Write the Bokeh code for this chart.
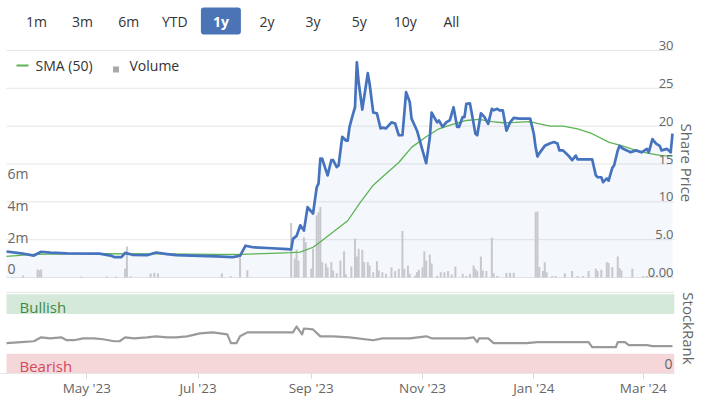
import pandas as pd
from bokeh.plotting import figure
from bokeh.layouts import column
from bokeh.models import (Range1d, DatetimeTickFormatter, MonthsTicker, BoxAnnotation, LinearAxis,
                          FixedTicker)
from bokeh.core.properties import value
from bokeh.embed import file_html
from bokeh.resources import INLINE

FONT = "Open Sans"

# ---------------- data ----------------
range_buttons = ["1m", "3m", "6m", "YTD", "1y", "2y", "3y", "5y", "10y", "All"]
selected_button = "1y"

price_dates = ["2023-03-18", "2023-03-26", "2023-04-02", "2023-04-06", "2023-04-11", "2023-04-20", "2023-05-08",
               "2023-05-14", "2023-05-16", "2023-05-20", "2023-05-22", "2023-05-26", "2023-06-03", "2023-06-08",
               "2023-06-14", "2023-06-19", "2023-07-02", "2023-07-11", "2023-07-20", "2023-07-24", "2023-07-27",
               "2023-07-31", "2023-08-08", "2023-08-19", "2023-08-21", "2023-08-22", "2023-08-24", "2023-08-26",
               "2023-08-28", "2023-08-30", "2023-09-02", "2023-09-04", "2023-09-05", "2023-09-06", "2023-09-07",
               "2023-09-10", "2023-09-12", "2023-09-13", "2023-09-15", "2023-09-16", "2023-09-18", "2023-09-20",
               "2023-09-21", "2023-09-22", "2023-09-24", "2023-09-25", "2023-09-26", "2023-09-27", "2023-09-29",
               "2023-10-02", "2023-10-03", "2023-10-05", "2023-10-07", "2023-10-09", "2023-10-10", "2023-10-12",
               "2023-10-15", "2023-10-17", "2023-10-19", "2023-10-21", "2023-10-23", "2023-10-25", "2023-10-26",
               "2023-10-29", "2023-11-01", "2023-11-03", "2023-11-05", "2023-11-06", "2023-11-09", "2023-11-10",
               "2023-11-12", "2023-11-14", "2023-11-16", "2023-11-18", "2023-11-20", "2023-11-21", "2023-11-23",
               "2023-11-24", "2023-11-25", "2023-11-27", "2023-11-28", "2023-11-30", "2023-12-01", "2023-12-03",
               "2023-12-05", "2023-12-07", "2023-12-09", "2023-12-10", "2023-12-12", "2023-12-13", "2023-12-15",
               "2023-12-17", "2023-12-19", "2023-12-21", "2023-12-24", "2023-12-30", "2024-01-01", "2024-01-02",
               "2024-01-03", "2024-01-04", "2024-01-07", "2024-01-10", "2024-01-12", "2024-01-14", "2024-01-15",
               "2024-01-17", "2024-01-20", "2024-01-22", "2024-01-24", "2024-01-25", "2024-02-02", "2024-02-04",
               "2024-02-05", "2024-02-07", "2024-02-08", "2024-02-10", "2024-02-11", "2024-02-13", "2024-02-14",
               "2024-02-16", "2024-02-17", "2024-02-19", "2024-02-21", "2024-02-23", "2024-02-26", "2024-02-29",
               "2024-03-03", "2024-03-04", "2024-03-06", "2024-03-08", "2024-03-10", "2024-03-11", "2024-03-14",
               "2024-03-16", "2024-03-17"]
price_values = [3.44, 3.2, 2.9, 3.4, 3.3, 3.2, 3.15,
                2.9, 2.7, 2.7, 3.25, 3.0, 2.95, 3.3,
                3.1, 2.95, 2.87, 2.8, 2.7, 2.87, 4.2,
                4.0, 3.9, 3.75, 3.7, 5.1, 5.5, 6.9,
                6.2, 9.3, 8.45, 11.9, 12.4, 15.7, 15.7,
                13.5, 15.5, 15.5, 14.6, 14.8, 18.6, 18.1,
                18.1, 19.9, 21.7, 22.5, 28.45, 25.8, 22.2,
                27.0, 25.6, 21.8, 21.7, 19.7, 19.8, 19.7,
                20.5, 20.35, 18.8, 18.8, 24.5, 23.2, 21.0,
                19.4, 16.8, 15.1, 18.5, 21.8, 20.5, 20.75,
                19.9, 20.5, 20.8, 22.5, 19.9, 19.9, 21.2,
                21.2, 22.95, 23.0, 21.7, 19.0, 18.8, 21.7,
                21.2, 20.3, 22.3, 22.1, 22.3, 22.1, 22.1,
                19.4, 20.5, 21.1, 21.0, 21.0, 19.0, 17.2,
                16.0, 16.4, 17.4, 17.75, 17.9, 17.7, 16.8,
                16.8, 16.1, 15.5, 16.1, 15.6, 15.6, 13.5,
                13.25, 13.25, 12.6, 13.1, 12.8, 14.5, 14.8,
                16.8, 17.4, 17.0, 16.8, 16.55, 16.8, 16.55,
                17.0, 16.55, 18.3, 17.7, 17.4, 16.8, 17.0,
                16.55, 19.0]

sma_dates = ["2023-03-18", "2023-04-02", "2023-04-20", "2023-05-08", "2023-06-14", "2023-07-10", "2023-07-24",
             "2023-08-10", "2023-08-21", "2023-08-26", "2023-09-02", "2023-09-07", "2023-09-13", "2023-09-21",
             "2023-09-28", "2023-10-05", "2023-10-12", "2023-10-19", "2023-10-26", "2023-11-03", "2023-11-10",
             "2023-11-17", "2023-11-25", "2023-12-02", "2023-12-09", "2023-12-15", "2023-12-22", "2023-12-30",
             "2024-01-04", "2024-01-10", "2024-01-17", "2024-01-25", "2024-02-02", "2024-02-11", "2024-02-19",
             "2024-02-26", "2024-03-04", "2024-03-11", "2024-03-17"]
sma_values = [2.8, 3.05, 3.12, 3.15, 3.12, 3.05, 3.05,
              3.2, 3.3, 3.35, 4.0, 4.9, 6.0, 7.5,
              9.95, 12.2, 13.7, 15.2, 17.2, 18.6, 19.65,
              20.2, 20.75, 20.9, 20.6, 20.45, 20.5, 20.6,
              20.3, 20.0, 20.0, 19.65, 19.0, 17.9, 17.35,
              16.8, 16.4, 16.1, 16.05]

volume_dates = ["2023-03-27", "2023-04-04", "2023-04-05", "2023-04-06", "2023-04-28", "2023-05-12", "2023-05-17",
                "2023-05-22", "2023-05-23", "2023-05-25", "2023-06-05", "2023-06-07", "2023-06-09", "2023-07-14",
                "2023-07-19", "2023-07-24", "2023-07-28", "2023-08-21", "2023-08-23", "2023-08-24", "2023-08-25",
                "2023-08-28", "2023-08-29", "2023-09-01", "2023-09-02", "2023-09-04", "2023-09-05", "2023-09-06",
                "2023-09-07", "2023-09-09", "2023-09-10", "2023-09-12", "2023-09-13", "2023-09-15", "2023-09-17",
                "2023-09-19", "2023-09-20", "2023-09-23", "2023-09-25", "2023-09-26", "2023-09-27", "2023-09-29",
                "2023-09-30", "2023-10-02", "2023-10-03", "2023-10-05", "2023-10-07", "2023-10-08", "2023-10-10",
                "2023-10-12", "2023-10-15", "2023-10-17", "2023-10-19", "2023-10-21", "2023-10-22", "2023-10-24",
                "2023-10-25", "2023-10-28", "2023-10-29", "2023-10-30", "2023-11-01", "2023-11-02", "2023-11-03",
                "2023-11-05", "2023-11-06", "2023-11-09", "2023-11-11", "2023-11-13", "2023-11-15", "2023-11-17",
                "2023-11-19", "2023-11-23", "2023-11-25", "2023-11-27", "2023-11-29", "2023-11-30", "2023-12-01",
                "2023-12-03", "2023-12-04", "2023-12-06", "2023-12-09", "2023-12-10", "2023-12-12", "2023-12-17",
                "2023-12-19", "2023-12-21", "2024-01-02", "2024-01-03", "2024-01-04", "2024-01-06", "2024-01-07",
                "2024-01-08", "2024-01-11", "2024-01-13", "2024-01-18", "2024-01-22", "2024-01-25", "2024-01-28",
                "2024-01-31", "2024-02-04", "2024-02-05", "2024-02-07", "2024-02-10", "2024-02-11", "2024-02-13",
                "2024-02-16", "2024-02-17", "2024-02-18", "2024-02-24", "2024-03-01", "2024-03-03", "2024-03-06"]
volume_millions = [0.12, 0.5, 0.45, 0.5, 0.06, 0.06, 0.06,
                   0.56, 1.94, 0.08, 0.25, 0.3, 0.25, 0.25,
                   0.08, 1.25, 0.45, 3.4, 1.19, 1.75, 1.06,
                   2.52, 2.2, 0.56, 1.81, 3.88, 4.08, 4.4,
                   0.96, 0.88, 0.63, 0.96, 0.44, 0.27, 1.06,
                   1.64, 0.2, 0.69, 2.42, 1.31, 1.79, 1.73,
                   0.96, 0.96, 0.75, 0.33, 1.02, 0.44, 0.33,
                   0.23, 0.63, 0.4, 0.54, 2.9, 0.54, 0.75,
                   0.23, 0.12, 0.33, 0.48, 0.63, 1.64, 1.06,
                   1.44, 0.88, 0.1, 0.33, 0.33, 0.4, 0.19,
                   0.69, 0.23, 0.1, 0.23, 0.75, 0.54, 0.4,
                   1.31, 0.44, 0.4, 2.48, 0.27, 0.1, 0.29,
                   0.29, 0.29, 4.08, 4.13, 0.65, 0.4, 0.96,
                   0.33, 0.1, 0.1, 0.27, 0.4, 0.1, 0.1,
                   0.4, 0.54, 0.4, 0.48, 0.96, 0.9, 0.65,
                   1.31, 0.6, 0.44, 0.54, 0.1, 0.1, 0.19]

rank_dates = ["2023-03-18", "2023-03-26", "2023-04-02", "2023-04-06", "2023-04-11", "2023-04-17", "2023-04-20",
              "2023-04-24", "2023-04-29", "2023-05-05", "2023-05-10", "2023-05-16", "2023-05-19", "2023-05-22",
              "2023-05-27", "2023-06-03", "2023-06-08", "2023-06-14", "2023-06-19", "2023-06-25", "2023-07-02",
              "2023-07-09", "2023-07-17", "2023-07-19", "2023-07-22", "2023-07-24", "2023-07-28", "2023-08-08",
              "2023-08-19", "2023-08-22", "2023-08-24", "2023-08-27", "2023-08-28", "2023-09-02", "2023-09-06",
              "2023-09-13", "2023-09-22", "2023-10-05", "2023-10-10", "2023-10-25", "2023-11-03", "2023-11-06",
              "2023-11-16", "2023-11-25", "2023-11-29", "2023-12-01", "2023-12-02", "2023-12-07", "2023-12-10",
              "2023-12-28", "2024-01-03", "2024-01-31", "2024-02-02", "2024-02-15", "2024-02-16", "2024-02-20",
              "2024-02-22", "2024-03-03", "2024-03-06", "2024-03-17"]
rank_values = [38.3, 39.5, 40.7, 45.7, 44.4, 45.7, 42.0,
               42.0, 44.4, 44.4, 43.2, 40.7, 40.7, 45.7,
               44.4, 45.7, 46.9, 45.7, 45.7, 46.9, 50.6,
               51.9, 49.4, 38.3, 38.3, 46.9, 51.9, 51.9,
               51.9, 51.9, 59.3, 49.4, 56.8, 55.6, 46.9,
               46.9, 45.7, 42.0, 44.4, 44.4, 46.9, 44.4,
               44.4, 44.4, 45.7, 39.5, 44.4, 44.4, 38.3,
               38.3, 39.5, 39.5, 33.3, 33.3, 39.5, 39.5,
               35.8, 35.8, 34.6, 34.6]

price_ticks = [0, 5, 10, 15, 20, 25, 30]
price_tick_labels = ["0.00", "5.0", "10", "15", "20", "25", "30"]
volume_ticks_millions = [0, 2, 4, 6]
volume_tick_labels = ["0", "2m", "4m", "6m"]
rank_zone_names = ["Bullish", "Bearish"]
rank_zone_bottoms = [75, 0]
rank_zone_tops = [100, 25]

# ---------------- layout (page pixels) ----------------
W = 702
FRAME_R = 674            # right edge of both plot frames
GRID_L = 6               # left end of grid lines / bands
SPLIT_Y, BOTTOM_Y = 283, 399
RANK_FRAME_B = 375
PRICE_ZERO_Y = 277
PRICE_PX = 227 / 30.0
VOL_PX = 16.0
RANK_PX = 0.81

GRID = "#e6e6e6"
LABEL = "#666666"
DARK = "#333333"

x_range = Range1d(pd.Timestamp("2023-03-14 17:00"), pd.Timestamp("2024-03-18 02:30"))

# ================= top figure: price + volume =================
pa = figure(width=W, height=SPLIT_Y, x_range=x_range, x_axis_type="datetime",
            y_range=Range1d((PRICE_ZERO_Y - SPLIT_Y) / PRICE_PX, PRICE_ZERO_Y / PRICE_PX),
            x_axis_location=None, y_axis_location=None,
            title="Share Price", title_location="right",
            output_backend="svg", toolbar_location=None,
            min_border_left=0, min_border_right=W - FRAME_R, min_border_top=0, min_border_bottom=0,
            outline_line_color=None, background_fill_color="white", border_fill_color="white")
pa.title.align = "left"
pa.title.offset = 123
pa.title.standoff = 4
pa.title.text_font = FONT
pa.title.text_font_size = "15px"
pa.title.text_font_style = "normal"
pa.title.text_color = LABEL
pa.xgrid.visible = False
pa.ygrid.visible = False
pa.extra_x_ranges = {"px": Range1d(0, FRAME_R)}
pa.extra_y_ranges = {
    "py": Range1d(SPLIT_Y, 0),
    "vol": Range1d((PRICE_ZERO_Y - SPLIT_Y) / VOL_PX * 1e6, PRICE_ZERO_Y / VOL_PX * 1e6),
}

# range selector buttons
button_x = [36 + 46.1 * i for i in range(len(range_buttons))]
sel = range_buttons.index(selected_button)
pa.add_layout(BoxAnnotation(left=button_x[sel] - 20, right=button_x[sel] + 20, top=7, bottom=34,
                            x_range_name="px", y_range_name="py", fill_color="#4a74b5", fill_alpha=1.0,
                            line_color=None, border_radius=3, level="underlay"))
others = [i for i in range(len(range_buttons)) if i != sel]
pa.text(x=[button_x[i] for i in others], y=21, text=[range_buttons[i] for i in others],
        x_range_name="px", y_range_name="py", text_align="center", text_baseline="middle",
        text_font=value(FONT), text_font_size="14px", text_color=DARK)
pa.text(x=[button_x[sel]], y=21, text=[range_buttons[sel]],
        x_range_name="px", y_range_name="py", text_align="center", text_baseline="middle",
        text_font=value(FONT), text_font_size="14px", text_color="white", text_font_style="bold")

# grid lines
pa.segment(x0=GRID_L, x1=FRAME_R, y0=price_ticks, y1=price_ticks, x_range_name="px",
           line_color=GRID, line_width=1)

pdates = pd.to_datetime(price_dates)
pa.varea(x=pdates, y1=0, y2=price_values, fill_color="#4572c4", fill_alpha=0.06)
pa.vbar(x=pd.to_datetime(volume_dates), top=[v * 1e6 for v in volume_millions], bottom=0,
        width=1.1 * 86400000, y_range_name="vol", fill_color="#c7c8cd", line_color=None)
pa.line(x=pd.to_datetime(sma_dates), y=sma_values, line_color="#5cb352", line_width=1.3)
pa.line(x=pdates, y=price_values, line_color="#4673bd", line_width=2.7, line_join="round")

# tick labels inside the plot
pa.text(x=673, y=price_ticks, text=price_tick_labels, x_range_name="px",
        text_align="right", text_baseline="alphabetic", y_offset=-5,
        text_font=value(FONT), text_font_size="13px", text_color=LABEL)
pa.text(x=7, y=[v * 1e6 for v in volume_ticks_millions], text=volume_tick_labels, x_range_name="px",
        y_range_name="vol", text_align="left", text_baseline="alphabetic", y_offset=-8.5,
        text_font=value(FONT), text_font_size="14px", text_color=LABEL)

# legend
pa.segment(x0=[16], x1=[28], y0=[65], y1=[65], x_range_name="px", y_range_name="py",
           line_color="#5cb352", line_width=2)
pa.rect(x=[115.5], y=[69], width=6, height=6, x_range_name="px", y_range_name="py",
        fill_color="#a9a9ad", line_color=None)
pa.text(x=[35, 129], y=[64.5, 64.5], text=["SMA (50)", "Volume"], x_range_name="px", y_range_name="py",
        text_align="left", text_baseline="middle",
        text_font=value(FONT), text_font_size="14px", text_color=DARK)

# ================= bottom figure: StockRank =================
pb = figure(width=W, height=BOTTOM_Y - SPLIT_Y, x_range=x_range, x_axis_type="datetime",
            y_range=Range1d(0, (RANK_FRAME_B - SPLIT_Y) / RANK_PX), y_axis_location=None,
            output_backend="svg", toolbar_location=None,
            min_border_left=0, min_border_right=W - FRAME_R, min_border_top=0,
            min_border_bottom=BOTTOM_Y - RANK_FRAME_B,
            outline_line_color=None, background_fill_color="white", border_fill_color="white")
pb.xgrid.visible = False
pb.ygrid.visible = False
pb.extra_x_ranges = {"px": Range1d(0, FRAME_R)}
pb.add_layout(LinearAxis(ticker=FixedTicker(ticks=[]), axis_label="StockRank",
                         axis_line_color=None, major_tick_line_color=None, minor_tick_line_color=None,
                         major_tick_out=0, major_tick_in=0, major_label_standoff=0, axis_label_standoff=4,
                         axis_label_text_font=FONT, axis_label_text_font_size="15px",
                         axis_label_text_font_style="normal", axis_label_text_color=LABEL), "right")

ax = pb.xaxis[0]
ax.ticker = MonthsTicker(months=[0, 2, 4, 6, 8, 10])
ax.formatter = DatetimeTickFormatter(months="%b '%y", days="%b '%y", years="%b '%y")
ax.major_label_text_font = FONT
ax.major_label_text_font_size = "13.5px"
ax.major_label_text_color = LABEL
ax.axis_line_color = GRID
ax.major_tick_line_color = "#d6d6d6"
ax.major_tick_out = 5
ax.major_tick_in = 0
ax.minor_tick_line_color = None
ax.major_label_standoff = 0

pb.quad(left=GRID_L, right=FRAME_R, bottom=rank_zone_bottoms, top=rank_zone_tops,
        x_range_name="px", fill_color=["#d5e9da", "#f5d7da"], line_color=None)
pb.segment(x0=GRID_L, x1=FRAME_R, y0=[102.5], y1=[102.5], x_range_name="px", line_color=GRID, line_width=1)
pb.line(x=pd.to_datetime(rank_dates), y=rank_values, line_color="#9a9a9a", line_width=2.2, line_join="round")
pb.text(x=19, y=[(b + t) / 2 - 3.5 for b, t in zip(rank_zone_bottoms, rank_zone_tops)], text=rank_zone_names,
        x_range_name="px", text_align="left", text_baseline="middle",
        text_font=value(FONT), text_font_size="15px", text_color=["#3f8a43", "#d5485c"])
pb.text(x=672, y=[12.5], text=["0"], x_range_name="px", text_align="right", text_baseline="middle",
        text_font=value(FONT), text_font_size="14px", text_color=LABEL)

layout = column(pa, pb, spacing=0)
open("out.html", "w").write(file_html(layout, INLINE))
